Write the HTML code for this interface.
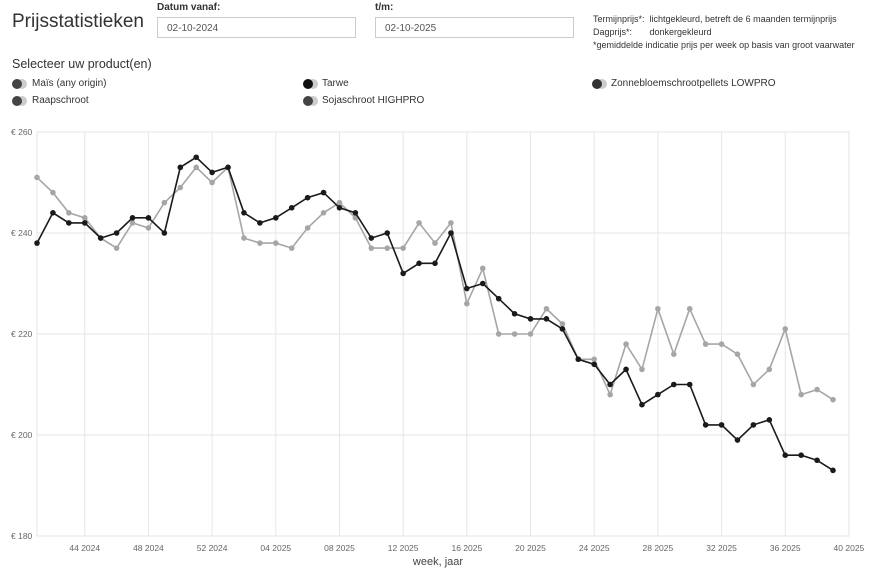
<!DOCTYPE html>
<html><head><meta charset="utf-8"><style>
body{margin:0;width:870px;height:568px;background:#fff;font-family:"Liberation Sans",sans-serif;color:#333;position:relative;overflow:hidden}
.a{position:absolute;white-space:nowrap}
.inp{position:absolute;border:1px solid #ccc;height:21px;width:197px;font-size:10px;color:#555;line-height:21px;padding-left:9px;box-sizing:border-box}
.tg{position:absolute;width:16px;height:10px}
.tg i{position:absolute;top:0;width:10px;height:10px;border-radius:50%}
</style></head><body>
<div class="a" style="left:12px;top:11px;font-size:19px;color:#333">Prijsstatistieken</div>
<div class="a" style="left:157px;top:2px;font-size:10px;font-weight:bold">Datum vanaf:</div>
<div class="a" style="left:375px;top:2px;font-size:10px;font-weight:bold">t/m:</div>
<div class="inp" style="left:157px;top:17px;width:199px">02-10-2024</div>
<div class="inp" style="left:375px;top:17px;width:199px">02-10-2025</div>
<div class="a" style="left:593px;top:13px;font-size:9px;line-height:13px">Termijnprijs*: &nbsp;lichtgekleurd, betreft de 6 maanden termijnprijs<br>Dagprijs*: &nbsp;&nbsp;&nbsp;&nbsp;&nbsp;&nbsp;donkergekleurd<br>*gemiddelde indicatie prijs per week op basis van groot vaarwater</div>
<div class="a" style="left:12px;top:57px;font-size:12.5px">Selecteer uw product(en)</div>
<div class="tg" style="left:12px;top:79px"><i style="left:5px;background:#ccc"></i><i style="left:0;background:#444"></i></div>
<div class="a" style="left:32px;top:78px;font-size:10px">Maïs (any origin)</div>
<div class="tg" style="left:12px;top:96px"><i style="left:5px;background:#ccc"></i><i style="left:0;background:#444"></i></div>
<div class="a" style="left:32px;top:95px;font-size:10px">Raapschroot</div>
<div class="tg" style="left:303px;top:79px"><i style="left:5px;background:#ccc"></i><i style="left:0;background:#111"></i></div>
<div class="a" style="left:322px;top:78px;font-size:10px">Tarwe</div>
<div class="tg" style="left:303px;top:96px"><i style="left:5px;background:#ccc"></i><i style="left:0;background:#444"></i></div>
<div class="a" style="left:322px;top:95px;font-size:10px">Sojaschroot HIGHPRO</div>
<div class="tg" style="left:592px;top:79px"><i style="left:5px;background:#ccc"></i><i style="left:0;background:#333"></i></div>
<div class="a" style="left:611px;top:78px;font-size:10px">Zonnebloemschrootpellets LOWPRO</div>
<svg id="c" width="870" height="568" style="position:absolute;left:0;top:0" font-family="Liberation Sans, sans-serif"></svg>
<script>
var s=document.getElementById('c'),h='';
function Y(v){return 132+(260-v)*5.05}
[260,240,220,200,180].forEach(function(v){var y=Y(v);h+='<line x1="37" x2="850" y1="'+y+'" y2="'+y+'" stroke="#e6e6e6"/><text x="11" y="'+(y+3)+'" font-size="8.5" fill="#666">€ '+v+'</text>';});
h+='<line x1="37" x2="37" y1="132" y2="536" stroke="#e6e6e6"/>';
var L=['44 2024','48 2024','52 2024','04 2025','08 2025','12 2025','16 2025','20 2025','24 2025','28 2025','32 2025','36 2025','40 2025'];
L.forEach(function(t,k){var x=37+(3+4*k)*15.92;h+='<line x1="'+x+'" x2="'+x+'" y1="132" y2="536" stroke="#e6e6e6"/><text x="'+x+'" y="551" font-size="8.5" fill="#666" text-anchor="middle">'+t+'</text>';});
h+='<text x="438" y="565" font-size="11" fill="#444" text-anchor="middle">week, jaar</text>';
var D=[238,244,242,242,239,240,243,243,240,253,255,252,253,244,242,243,245,247,248,245,244,239,240,232,234,234,240,229,230,227,224,223,223,221,215,214,210,213,206,208,210,210,202,202,199,202,203,196,196,195,193];
var G=[251,248,244,243,239,237,242,241,246,249,253,250,253,239,238,238,237,241,244,246,243,237,237,237,242,238,242,226,233,220,220,220,225,222,215,215,208,218,213,225,216,225,218,218,216,210,213,221,208,209,207];
function ser(a,c,w){var p=a.map(function(v,i){return (37+i*15.92).toFixed(1)+','+Y(v).toFixed(1)}).join(' ');h+='<polyline points="'+p+'" fill="none" stroke="'+c+'" stroke-width="'+w+'"/>';a.forEach(function(v,i){h+='<circle cx="'+(37+i*15.92)+'" cy="'+Y(v)+'" r="2.8" fill="'+c+'"/>'});}
ser(G,'#a6a6a6',1.6);ser(D,'#1a1a1a',1.6);
s.innerHTML=h;
</script>
</body></html>
